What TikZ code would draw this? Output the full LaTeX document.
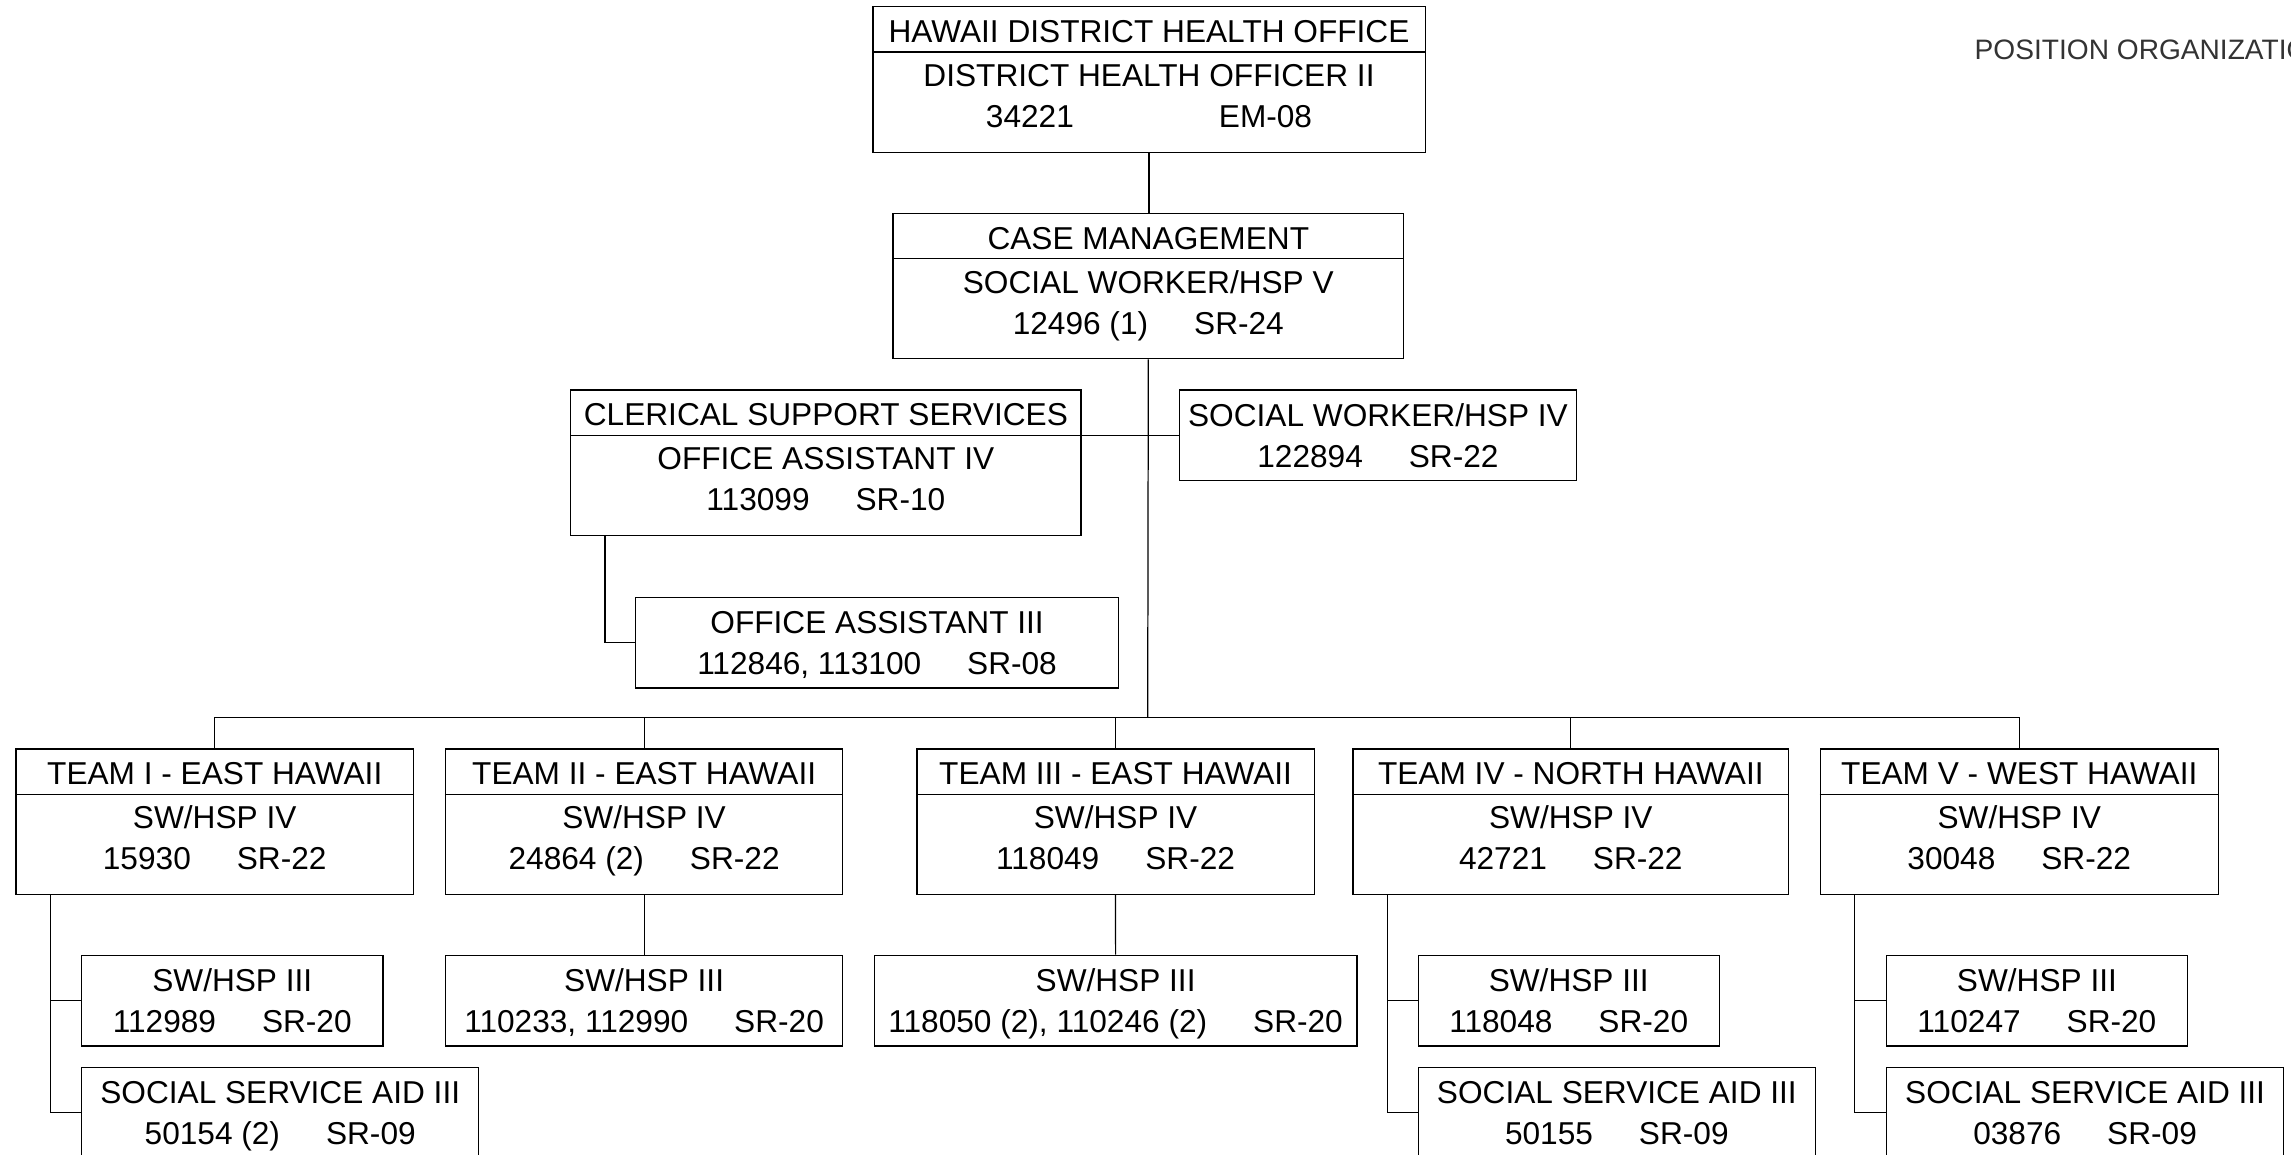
\documentclass[tikz,border=0pt]{standalone}
\usepackage{fontspec}
\setmainfont{Liberation Sans}

\newcommand{\posgap}{\hspace{4.6mm}}
\newcommand{\boxrows}[1]{\begin{tabular}[t]{@{}c@{}}#1\end{tabular}}

\tikzset{
    unit/.style = {draw, line width = .35pt, inner sep = 0pt, anchor = north west,
        font = \fontsize{9pt}{11.67pt}\selectfont},
    head/.style = {unit, text height = .36cm, text depth = 1.095cm},
    post/.style = {unit, text height = .363cm, text depth = .543cm},
    link/.style = {line width = .35pt}
}

\begin{document}
\begin{tikzpicture}
                \useasboundingbox (0, 0) rectangle (22.91, -11.54);
                \clip (0, 0) rectangle (22.91, -11.54);

                \node[anchor = base west, inner sep = 0pt, text = black!80, font = \fontsize{8pt}{9.6pt}\selectfont] (title) at (19.74, -.59) {POSITION ORGANIZATION};

                \node[head, minimum width = 5.522cm] (office) at (8.723, -.06) {\boxrows{HAWAII DISTRICT HEALTH OFFICE\\[.03cm] DISTRICT HEALTH OFFICER II\\ 34221\hspace{1.45cm}EM-08}};
                \node[head, minimum width = 5.106cm] (casemgmt) at (8.924, -2.127) {\boxrows{CASE MANAGEMENT\\[.03cm] SOCIAL WORKER/HSP V\\ 12496 (1)\posgap SR-24}};

                \node[head, minimum width = 5.103cm] (clerical) at (5.701, -3.893) {\boxrows{CLERICAL SUPPORT SERVICES\\[.03cm] OFFICE ASSISTANT IV\\ 113099\posgap SR-10}};
                \node[post, minimum width = 3.971cm] (swiv) at (11.788, -3.893) {\boxrows{SOCIAL WORKER/HSP IV\\ 122894\posgap SR-22}};
                \node[post, minimum width = 4.829cm] (oaiii) at (6.35, -5.967) {\boxrows{OFFICE ASSISTANT III\\ 112846, 113100\posgap SR-08}};

                \node[head, minimum width = 3.972cm] (team1) at (.155, -7.483) {\boxrows{TEAM I - EAST HAWAII\\[.03cm] SW/HSP IV\\ 15930\posgap SR-22}};
                \node[head, minimum width = 3.972cm] (team2) at (4.449, -7.483) {\boxrows{TEAM II - EAST HAWAII\\[.03cm] SW/HSP IV\\ 24864 (2)\posgap SR-22}};
                \node[head, minimum width = 3.973cm] (team3) at (9.163, -7.483) {\boxrows{TEAM III - EAST HAWAII\\[.03cm] SW/HSP IV\\ 118049\posgap SR-22}};
                \node[head, minimum width = 4.358cm] (team4) at (13.523, -7.483) {\boxrows{TEAM IV - NORTH HAWAII\\[.03cm] SW/HSP IV\\ 42721\posgap SR-22}};
                \node[head, minimum width = 3.979cm] (team5) at (18.197, -7.483) {\boxrows{TEAM V - WEST HAWAII\\[.03cm] SW/HSP IV\\ 30048\posgap SR-22}};

                \node[post, minimum width = 3.013cm] (sw1) at (.81, -9.547) {\boxrows{SW/HSP III\\ 112989\posgap SR-20}};
                \node[post, minimum width = 3.972cm] (aid1) at (.81, -10.667) {\boxrows{SOCIAL SERVICE AID III\\ 50154 (2)\posgap SR-09}};
                \node[post, minimum width = 3.972cm] (sw2) at (4.449, -9.547) {\boxrows{SW/HSP III\\ 110233, 112990\posgap SR-20}};
                \node[post, minimum width = 4.828cm] (sw3) at (8.736, -9.547) {\boxrows{SW/HSP III\\ 118050 (2), 110246 (2)\posgap SR-20}};
                \node[post, minimum width = 3.01cm] (sw4) at (14.176, -9.547) {\boxrows{SW/HSP III\\ 118048\posgap SR-20}};
                \node[post, minimum width = 3.973cm] (aid4) at (14.176, -10.667) {\boxrows{SOCIAL SERVICE AID III\\ 50155\posgap SR-09}};
                \node[post, minimum width = 3.008cm] (sw5) at (18.859, -9.547) {\boxrows{SW/HSP III\\ 110247\posgap SR-20}};
                \node[post, minimum width = 3.972cm] (aid5) at (18.859, -10.667) {\boxrows{SOCIAL SERVICE AID III\\ 03876\posgap SR-09}};

                \draw[link]([yshift = -.46cm]office.north west) to ([yshift = -.46cm]office.north east);
                \draw[link]([yshift = -.46cm]casemgmt.north west) to ([yshift = -.46cm]casemgmt.north east);
                \draw[link]([yshift = -.46cm]clerical.north west) to ([yshift = -.46cm]clerical.north east);
                \draw[link]([yshift = -.46cm]team1.north west) to ([yshift = -.46cm]team1.north east);
                \draw[link]([yshift = -.46cm]team2.north west) to ([yshift = -.46cm]team2.north east);
                \draw[link]([yshift = -.46cm]team3.north west) to ([yshift = -.46cm]team3.north east);
                \draw[link]([yshift = -.46cm]team4.north west) to ([yshift = -.46cm]team4.north east);
                \draw[link]([yshift = -.46cm]team5.north west) to ([yshift = -.46cm]team5.north east);

                \coordinate (bus) at (11.477, -7.173);

                \draw[link](office.south) to (office.south |- casemgmt.north);
                \draw[link](casemgmt.south) to (bus);
                \draw[link](clerical.east |- swiv.west) to (swiv.west);
                \draw[link]([xshift = 3.5mm]clerical.south west) |- (oaiii.west);

                \draw[link](team1.north) |- (bus) -| (team5.north);
                \draw[link](team2.north) to (team2.north |- bus);
                \draw[link](team3.north) to (team3.north |- bus);
                \draw[link](team4.north) to (team4.north |- bus);

                \draw[link]([xshift = 3.5mm]team1.south west) |- (sw1.west);
                \draw[link]([xshift = 3.5mm]team1.south west) |- (aid1.west);
                \draw[link](team2.south) to (sw2.north);
                \draw[link](team3.south) to (sw3.north);
                \draw[link]([xshift = 3.5mm]team4.south west) |- (sw4.west);
                \draw[link]([xshift = 3.5mm]team4.south west) |- (aid4.west);
                \draw[link]([xshift = 3.5mm]team5.south west) |- (sw5.west);
                \draw[link]([xshift = 3.5mm]team5.south west) |- (aid5.west);
\end{tikzpicture}
\end{document}
